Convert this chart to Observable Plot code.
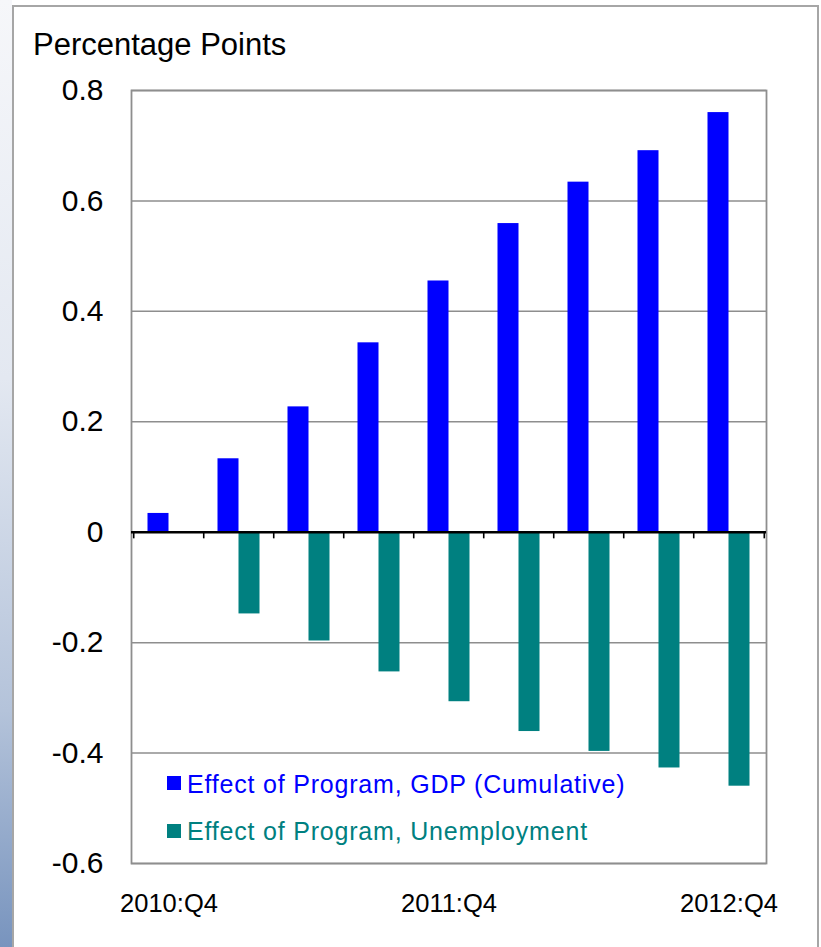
<!DOCTYPE html>
<html>
<head>
<meta charset="utf-8">
<script src="https://cdn.jsdelivr.net/npm/d3@7"></script>
<script src="https://cdn.jsdelivr.net/npm/@observablehq/plot@0.6"></script>
<style>
  body { margin: 0; background: #fff; font-family: "Liberation Sans", Arial, sans-serif; }
  #wrap { position: relative; width: 821px; height: 947px; overflow: hidden; background: #fff; }
  #strip { position: absolute; left: 0; top: 0; width: 12px; height: 947px;
           background: linear-gradient(#f6f7fa, #e3e8f1 40%, #b4c3da 75%, #7894be); }
  #box { position: absolute; left: 12px; top: 5px; width: 803px; height: 980px;
         border: 2px solid #a6a6a6; border-bottom: none; }
  #title { position: absolute; left: 33px; top: 29px; font-size: 31px; line-height: 31px; color: #000; white-space: nowrap; }
  #chart { position: absolute; left: 0; top: 0; }
  .leg { position: absolute; font-size: 25px; line-height: 25px; letter-spacing: 0.8px; white-space: nowrap; }
  .sw { position: absolute; width: 14px; height: 14px; }
</style>
</head>
<body>
<div id="wrap">
  <div id="strip"></div>
  <div id="box"></div>
  <div id="title">Percentage Points</div>
  <div id="chart"></div>
  <div id="legend"></div>
</div>
<script>
// ---- data ----
const quarters = ["2010:Q4", "2011:Q1", "2011:Q2", "2011:Q3", "2011:Q4", "2012:Q1", "2012:Q2", "2012:Q3", "2012:Q4"];
const gdpEffect = [0.034, 0.133, 0.227, 0.343, 0.455, 0.559, 0.634, 0.691, 0.760];
const unemploymentEffect = [null, -0.148, -0.197, -0.253, -0.307, -0.361, -0.397, -0.427, -0.460];
const yTicks = [-0.6, -0.4, -0.2, 0, 0.2, 0.4, 0.6, 0.8];
const xTickLabels = ["2010:Q4", "2011:Q4", "2012:Q4"];
const seriesNames = ["Effect of Program, GDP (Cumulative)", "Effect of Program, Unemployment"];
const seriesColors = ["#0000ff", "#008080"];

const rows = quarters.map((q, i) => ({ quarter: q, gdp: gdpEffect[i], unemp: unemploymentEffect[i] }));

const W = 821, H = 947;
const mLeft = 131, mRight = 55, mTop = 90, mBottom = 84;
const step = (W - mLeft - mRight) / quarters.length;
const barW = 21;
const pInner = 1 - barW / step;

const fmt = d => String(Math.round(d * 10) / 10);

const plot = Plot.plot({
  width: W,
  height: H,
  marginLeft: mLeft,
  marginRight: mRight,
  marginTop: mTop,
  marginBottom: mBottom,
  style: { background: "transparent", fontFamily: "'Liberation Sans', Arial, sans-serif", color: "#000" },
  x: { type: "band", domain: quarters, paddingInner: pInner, paddingOuter: pInner / 2, label: null },
  y: { domain: [-0.6, 0.8], label: null },
  marks: [
    Plot.ruleY(yTicks.filter(d => d !== 0), { stroke: "#8e8e8e", strokeWidth: 1.5 }),
    Plot.frame({ stroke: "#8e8e8e", strokeWidth: 1.8 }),
    Plot.barY(rows, { x: "quarter", y1: 0, y2: "gdp", fill: seriesColors[0], dx: -barW / 2 }),
    Plot.barY(rows.filter(d => d.unemp != null), { x: "quarter", y1: 0, y2: "unemp", fill: seriesColors[1], dx: barW / 2 }),
    Plot.ruleY([0], { stroke: "#000", strokeWidth: 2.5 }),
    Plot.ruleX(quarters, { x: d => d, dx: -step / 2, y1: 0, y2: -0.012, stroke: "#000", strokeWidth: 1.6 }),
    Plot.ruleX(quarters.slice(-1), { x: d => d, dx: step / 2, y1: 0, y2: -0.012, stroke: "#000", strokeWidth: 1.6 }),
    Plot.axisY(yTicks, { anchor: "left", tickSize: 0, tickPadding: 28, fontSize: 30, tickFormat: fmt, label: null }),
    Plot.axisX(xTickLabels, { anchor: "bottom", tickSize: 0, tickPadding: 30, fontSize: 25.5, label: null })
  ]
});
document.getElementById("chart").appendChild(plot);

// ---- legend (inside plot area) ----
const legend = document.getElementById("legend");
const legTops = [771.5, 818.8];
const swTops = [776, 823.5];
seriesNames.forEach((name, i) => {
  const sw = document.createElement("div");
  sw.className = "sw";
  sw.style.left = "167px";
  sw.style.top = swTops[i] + "px";
  sw.style.background = seriesColors[i];
  legend.appendChild(sw);
  const t = document.createElement("div");
  t.className = "leg";
  t.style.left = "187px";
  t.style.top = legTops[i] + "px";
  t.style.color = seriesColors[i];
  t.textContent = name;
  legend.appendChild(t);
});
</script>
</body>
</html>
